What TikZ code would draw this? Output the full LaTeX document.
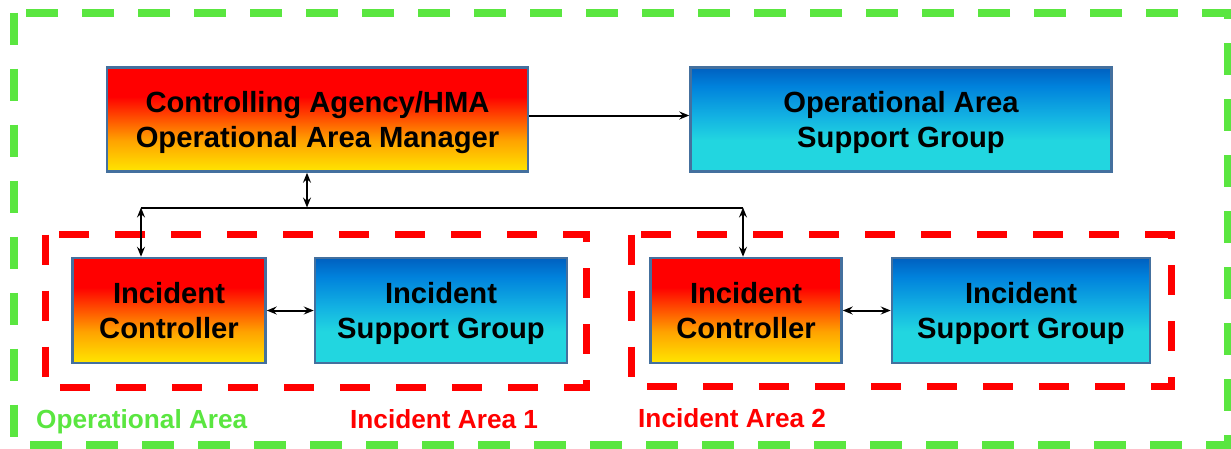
\documentclass[tikz,border=0pt]{standalone}
\usepackage{fontspec}
\setmainfont{Liberation Sans}
\usetikzlibrary{arrows.meta, calc, positioning}

\definecolor{hotbot}{RGB}{255,230,0}
\definecolor{hotmid}{RGB}{255,162,0}
\definecolor{hottop}{RGB}{255,0,0}
\definecolor{coolbot}{RGB}{34,214,224}
\definecolor{coolmid}{RGB}{18,176,226}
\definecolor{coolhigh}{RGB}{0,130,220}
\definecolor{cooltop}{RGB}{0,96,192}
\definecolor{boxedge}{RGB}{68,112,158}
\definecolor{areagreen}{RGB}{90,230,64}
\definecolor{areared}{RGB}{255,0,0}

\pgfdeclareverticalshading{hotfill}{100bp}{color(0bp)=(hotbot); color(25bp)=(hotbot); color(40bp)=(hotmid); color(61bp)=(hottop); color(100bp)=(hottop)}
\pgfdeclareverticalshading{coolfill}{100bp}{color(0bp)=(coolbot); color(25bp)=(coolbot); color(40bp)=(coolbot); color(52bp)=(coolmid); color(66bp)=(coolhigh); color(75bp)=(cooltop); color(100bp)=(cooltop)}

\begin{document}
\begin{tikzpicture}[x=1pt, y=-1pt,
    >={Stealth[length=10pt, width=8pt, inset=3.5pt]},
    unit/.style={draw=boxedge, line width=2.5pt, align=center, inner sep=0pt,
      text depth=0pt, font=\bfseries\fontsize{29.2}{34.5}\selectfont},
    hotbox/.style={unit, shading=hotfill},
    coolbox/.style={unit, shading=coolfill},
    link/.style={line width=2pt},
    areatag/.style={anchor=base west, inner sep=0pt, font=\bfseries\fontsize{26.2}{30}\selectfont}]

      \useasboundingbox (0,0) rectangle (1231,448);

      \draw[areagreen, line width=8pt, dash pattern=on 32pt off 24pt] (14,12.5) rectangle (1228,444.5);
      \draw[areared, line width=7pt, dash pattern=on 30pt off 26pt] (45,234.5) rectangle (586,387.5);
      \draw[areared, line width=7pt, dash pattern=on 30pt off 26pt] (631,234.5) rectangle (1171,386.5);

      \node[hotbox, minimum width=421pt, minimum height=104pt] (CA) at (317.5,119.5) {Controlling Agency/HMA\\Operational Area Manager};
      \node[coolbox, minimum width=421pt, minimum height=104pt] (OS) at (901,119.5) {Operational Area\\Support Group};

      \node[hotbox, minimum width=193pt, minimum height=105pt] (IC1) at (169,310.5) {Incident\\Controller};
      \node[coolbox, minimum width=252pt, minimum height=105pt] (IS1) at (441,310.5) {Incident\\Support Group};
      \node[hotbox, minimum width=191pt, minimum height=105pt] (IC2) at (746,310.5) {Incident\\Controller};
      \node[coolbox, minimum width=258pt, minimum height=105pt] (IS2) at (1021,310.5) {Incident\\Support Group};

      \coordinate (BL) at (141,207.5);
      \coordinate (BM) at (307,207.5);
      \coordinate (BR) at (743,207.5);

      \draw[link, ->] ([yshift=4pt]CA.east) -- ([yshift=4pt]OS.west);
      \draw[link, <->] (CA.south -| BM) -- (BM);
      \draw[link] (BL) -- (BR);
      \draw[link, <->] (BL) -- (BL |- IC1.north);
      \draw[link, <->] (BR) -- (BR |- IC2.north);
      \draw[link, <->] (IC1) -- (IS1);
      \draw[link, <->] (IC2) -- (IS2);

      \node[areatag, areagreen] (OA) at (36,428.5) {Operational Area};
      \node[areatag, areared] (IA1) at (350,428) {Incident Area 1};
      \node[areatag, areared] (IA2) at (638,427.5) {Incident Area 2};
    \end{tikzpicture}
\end{document}
